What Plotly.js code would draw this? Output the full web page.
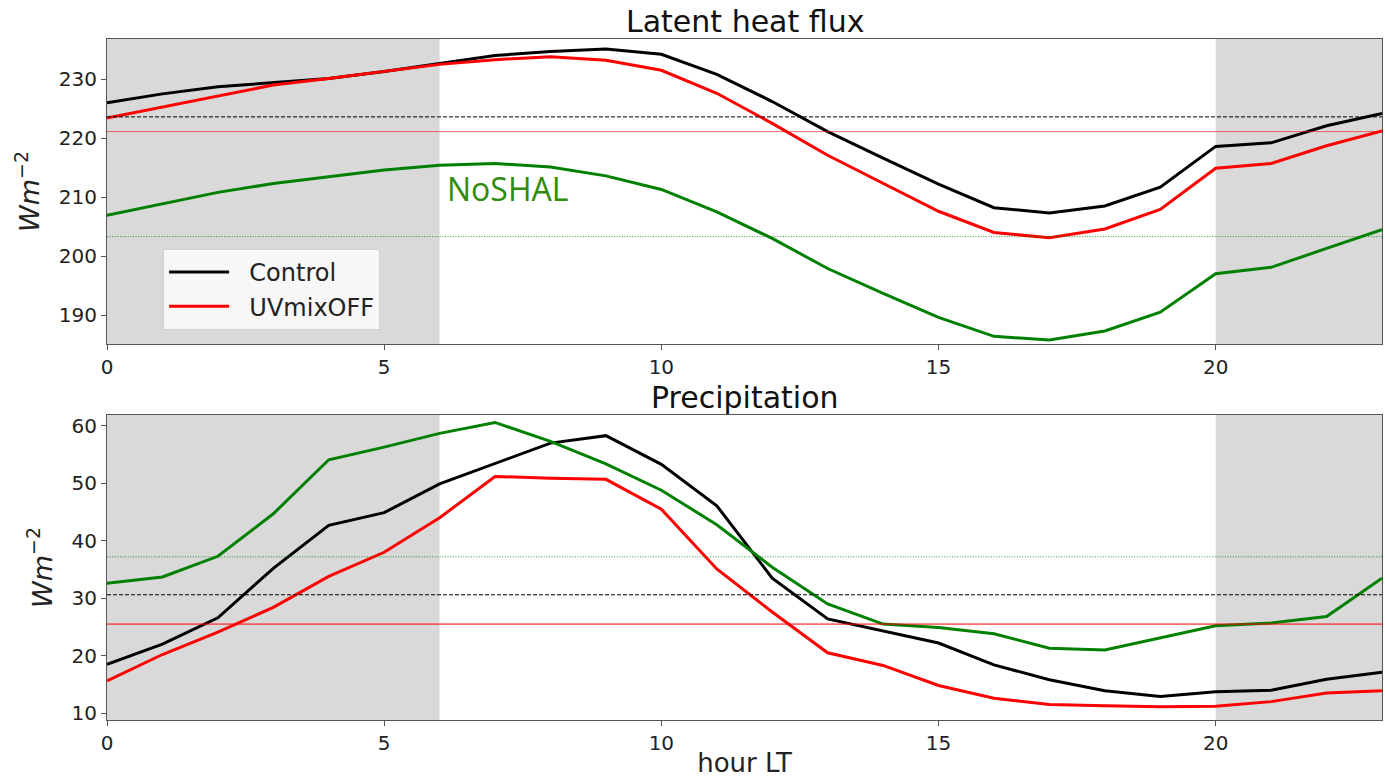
<!DOCTYPE html>
<html>
<head>
<meta charset="utf-8">
<script src="https://cdn.plot.ly/plotly-3.0.1.min.js"></script>
<style>html,body{margin:0;padding:0;background:#fff;}#chart{width:1385px;height:778px;}</style>
</head>
<body>
<div id="chart"></div>
<script>
const hours = [0,1,2,3,4,5,6,7,8,9,10,11,12,13,14,15,16,17,18,19,20,21,22,23];

const latentControl = [226.0,227.5,228.7,229.4,230.1,231.3,232.7,234.0,234.7,235.1,234.2,230.8,226.2,221.1,216.6,212.2,208.2,207.3,208.5,211.7,218.6,219.2,222.1,224.2];
const latentUVmixOFF = [223.4,225.3,227.1,229.0,230.1,231.3,232.5,233.3,233.8,233.2,231.5,227.6,222.5,217.1,212.4,207.6,204.0,203.1,204.6,207.9,214.9,215.7,218.7,221.2];
const latentNoSHAL = [206.9,208.8,210.8,212.3,213.4,214.6,215.4,215.7,215.1,213.6,211.3,207.5,203.0,197.9,193.7,189.6,186.4,185.8,187.3,190.5,197.0,198.1,201.3,204.5];

const precipControl = [18.5,22.0,26.6,35.2,42.7,44.9,49.9,53.4,57.0,58.3,53.3,46.1,33.5,26.4,24.3,22.2,18.4,15.8,13.9,12.9,13.7,14.0,15.9,17.1];
const precipUVmixOFF = [15.6,20.2,24.1,28.4,33.8,38.0,44.0,51.2,50.9,50.7,45.5,35.1,27.6,20.5,18.3,14.8,12.6,11.5,11.3,11.1,11.2,12.0,13.5,13.9];
const precipNoSHAL = [32.6,33.7,37.3,44.7,54.1,56.3,58.7,60.6,57.3,53.4,48.8,42.8,35.4,29.0,25.5,24.9,23.8,21.3,21.0,23.1,25.2,25.7,26.8,33.5];

// daily means: [Control, UVmixOFF, NoSHAL]
const latentMeans = [223.6, 221.1, 203.3];
const precipMeans = [30.6, 25.5, 37.2];

const nightSpans = [[0,6],[20,23]];
const seriesNames = ["Control","UVmixOFF","NoSHAL"];
const xTicks = [0,5,10,15,20];
const latentTicks = [190,200,210,220,230];
const precipTicks = [10,20,30,40,50,60];

const colors = ["#000000","#ff0000","#008000"];
const font = "DejaVu Sans, sans-serif";
const pad = "\u00a0\u00a0";

function line(x, y, name, color, xa, ya, show) {
  return {x: x, y: y, name: pad + name, type: "scatter", mode: "lines",
    line: {color: color, width: 3}, xaxis: xa, yaxis: ya, showlegend: show,
    hoverinfo: "skip"};
}

const traces = [
  line(hours, latentControl, seriesNames[0], colors[0], "x", "y", true),
  line(hours, latentUVmixOFF, seriesNames[1], colors[1], "x", "y", true),
  line(hours, latentNoSHAL, seriesNames[2], colors[2], "x", "y", false),
  line(hours, precipControl, seriesNames[0], colors[0], "x2", "y2", false),
  line(hours, precipUVmixOFF, seriesNames[1], colors[1], "x2", "y2", false),
  line(hours, precipNoSHAL, seriesNames[2], colors[2], "x2", "y2", false)
];

const shapes = [];
[["x","y"],["x2","y2"]].forEach(([xa, ya]) => {
  nightSpans.forEach(s => {
    shapes.push({type: "rect", xref: xa, yref: ya + " domain", x0: s[0], x1: s[1], y0: 0, y1: 1,
      fillcolor: "#d9d9d9", line: {width: 0}, layer: "below"});
  });
});
const meanStyles = [
  {color: "#000000", width: 1, dash: "4px,2px"},
  {color: "#ff0000", width: 1, dash: "solid"},
  {color: "rgba(0,128,0,0.8)", width: 1, dash: "1px,1.6px"}
];
latentMeans.forEach((m, i) => {
  const st = Object.assign({}, meanStyles[i]);
  if (i === 1) st.color = "rgba(255,0,0,0.6)";
  shapes.push({type: "line", xref: "x domain", yref: "y", x0: 0, x1: 1, y0: m, y1: m, line: st, layer: "above"});
});
precipMeans.forEach((m, i) => {
  const st = Object.assign({}, meanStyles[i]);
  shapes.push({type: "line", xref: "x2 domain", yref: "y2", x0: 0, x1: 1, y0: m, y1: m, line: st, layer: "above"});
});

const axisCommon = {
  showgrid: false, zeroline: false, showline: true, mirror: true,
  linecolor: "#555", linewidth: 1, ticks: "outside", ticklen: 5, tickwidth: 1, tickcolor: "#555",
  tickfont: {family: font, size: 20, color: "#222"}
};
const yTitle = {text: "<i>Wm</i><sup>−2</sup>", font: {family: font, size: 27, color: "#222"}, standoff: 11};

const layout = {
  width: 1385, height: 778,
  margin: {l: 107, r: 3, t: 39, b: 58},
  paper_bgcolor: "#fff", plot_bgcolor: "#fff",
  font: {family: font, color: "#222"},
  xaxis: Object.assign({}, axisCommon, {domain: [0,1], range: [hours[0], hours[hours.length-1]], tickvals: xTicks, anchor: "y"}),
  yaxis: Object.assign({}, axisCommon, {domain: [0.5521, 1], range: [185.1, 236.8], tickvals: latentTicks, title: yTitle, anchor: "x"}),
  xaxis2: Object.assign({}, axisCommon, {domain: [0,1], range: [hours[0], hours[hours.length-1]], tickvals: xTicks, anchor: "y2",
    title: {text: "hour LT", font: {family: font, size: 26, color: "#222"}, standoff: 6}}),
  yaxis2: Object.assign({}, axisCommon, {domain: [0, 0.4479], range: [8.8, 61.9], tickvals: precipTicks, title: yTitle, anchor: "x2"}),
  shapes: shapes,
  showlegend: true,
  legend: {x: 0.044, y: 0.6916, xanchor: "left", yanchor: "top",
    bgcolor: "rgba(250,250,250,0.9)", bordercolor: "#d0d0d0", borderwidth: 1,
    font: {family: font, size: 24, color: "#222"}, itemwidth: 60, tracegroupgap: 0},
  annotations: [
    {text: "Latent heat flux", xref: "paper", yref: "paper", x: 0.5, y: 1, yshift: -2, xanchor: "center", yanchor: "bottom",
      showarrow: false, font: {family: font, size: 30, color: "#111"}},
    {text: "Precipitation", xref: "paper", yref: "paper", x: 0.5, y: 0.4479, yshift: -2, xanchor: "center", yanchor: "bottom",
      showarrow: false, font: {family: font, size: 30, color: "#111"}},
    {text: seriesNames[2], xref: "x", yref: "y", x: 6.1, y: 211.4, xanchor: "left", yanchor: "middle",
      showarrow: false, font: {family: "Open Sans, Noto Sans, sans-serif", size: 32, color: "#2e8b0e"}}
  ]
};

Plotly.newPlot("chart", traces, layout, {staticPlot: true, displayModeBar: false});
</script>
</body>
</html>
